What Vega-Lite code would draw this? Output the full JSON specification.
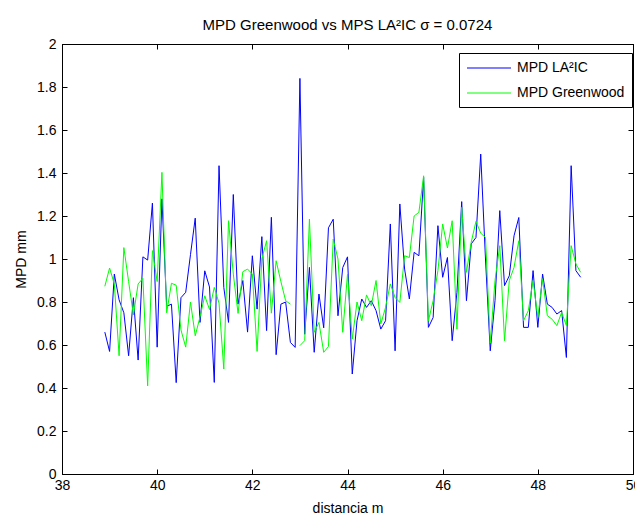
{
  "$schema": "https://vega.github.io/schema/vega-lite/v6.json",
  "width": 571,
  "height": 430,
  "autosize": {"type": "none"},
  "padding": {"left": 62, "top": 44, "right": 2, "bottom": 43},
  "background": "white",
  "title": {
    "text": "MPD Greenwood vs MPS LA²IC σ = 0.0724",
    "font": "Liberation Sans",
    "fontSize": 15,
    "fontWeight": "normal",
    "color": "black",
    "anchor": "middle",
    "offset": 4
  },
  "data": {
    "values": [
      {"distancia": 38.9, "MPD LA²IC": 0.66, "MPD Greenwood": 0.873},
      {"distancia": 39.0, "MPD LA²IC": 0.57, "MPD Greenwood": 0.958},
      {"distancia": 39.1, "MPD LA²IC": 0.93, "MPD Greenwood": 0.884},
      {"distancia": 39.2, "MPD LA²IC": 0.81, "MPD Greenwood": 0.55},
      {"distancia": 39.3, "MPD LA²IC": 0.75, "MPD Greenwood": 1.053},
      {"distancia": 39.4, "MPD LA²IC": 0.55, "MPD Greenwood": 0.895},
      {"distancia": 39.5, "MPD LA²IC": 0.82, "MPD Greenwood": 0.74},
      {"distancia": 39.6, "MPD LA²IC": 0.53, "MPD Greenwood": 0.884},
      {"distancia": 39.7, "MPD LA²IC": 1.01, "MPD Greenwood": 0.91},
      {"distancia": 39.8, "MPD LA²IC": 0.995, "MPD Greenwood": 0.41},
      {"distancia": 39.9, "MPD LA²IC": 1.26, "MPD Greenwood": 1.039},
      {"distancia": 40.0, "MPD LA²IC": 0.59, "MPD Greenwood": 0.895},
      {"distancia": 40.1, "MPD LA²IC": 1.28, "MPD Greenwood": 1.403},
      {"distancia": 40.2, "MPD LA²IC": 0.78, "MPD Greenwood": 0.75},
      {"distancia": 40.3, "MPD LA²IC": 0.79, "MPD Greenwood": 0.887},
      {"distancia": 40.4, "MPD LA²IC": 0.425, "MPD Greenwood": 0.878},
      {"distancia": 40.5, "MPD LA²IC": 0.82, "MPD Greenwood": 0.67},
      {"distancia": 40.6, "MPD LA²IC": 0.845, "MPD Greenwood": 0.59},
      {"distancia": 40.7, "MPD LA²IC": 1.02, "MPD Greenwood": 0.8},
      {"distancia": 40.8, "MPD LA²IC": 1.19, "MPD Greenwood": 0.643},
      {"distancia": 40.9, "MPD LA²IC": 0.705, "MPD Greenwood": 0.73},
      {"distancia": 41.0, "MPD LA²IC": 0.945, "MPD Greenwood": 0.829},
      {"distancia": 41.1, "MPD LA²IC": 0.87, "MPD Greenwood": 0.765},
      {"distancia": 41.2, "MPD LA²IC": 0.426, "MPD Greenwood": 0.868},
      {"distancia": 41.3, "MPD LA²IC": 1.434, "MPD Greenwood": 0.795},
      {"distancia": 41.4, "MPD LA²IC": 0.868, "MPD Greenwood": 0.488},
      {"distancia": 41.5, "MPD LA²IC": 0.705, "MPD Greenwood": 1.178},
      {"distancia": 41.6, "MPD LA²IC": 1.3, "MPD Greenwood": 0.93},
      {"distancia": 41.7, "MPD LA²IC": 0.79, "MPD Greenwood": 0.747},
      {"distancia": 41.8, "MPD LA²IC": 0.9, "MPD Greenwood": 0.941},
      {"distancia": 41.9, "MPD LA²IC": 0.66, "MPD Greenwood": 0.953},
      {"distancia": 42.0, "MPD LA²IC": 1.015, "MPD Greenwood": 0.93},
      {"distancia": 42.1, "MPD LA²IC": 0.767, "MPD Greenwood": 0.57},
      {"distancia": 42.2, "MPD LA²IC": 1.104, "MPD Greenwood": 1.0},
      {"distancia": 42.3, "MPD LA²IC": 0.667, "MPD Greenwood": 1.085},
      {"distancia": 42.4, "MPD LA²IC": 1.194, "MPD Greenwood": 0.748},
      {"distancia": 42.5, "MPD LA²IC": 0.555, "MPD Greenwood": 0.992},
      {"distancia": 42.6, "MPD LA²IC": 0.79, "MPD Greenwood": 0.895},
      {"distancia": 42.7, "MPD LA²IC": 0.8, "MPD Greenwood": 0.806},
      {"distancia": 42.8, "MPD LA²IC": 0.612, "MPD Greenwood": 0.79},
      {"distancia": 42.9, "MPD LA²IC": 0.589, "MPD Greenwood": null},
      {"distancia": 43.0, "MPD LA²IC": 1.84, "MPD Greenwood": 0.597},
      {"distancia": 43.1, "MPD LA²IC": 0.65, "MPD Greenwood": 0.62},
      {"distancia": 43.2, "MPD LA²IC": 0.961, "MPD Greenwood": 1.186},
      {"distancia": 43.3, "MPD LA²IC": 0.566, "MPD Greenwood": 0.659},
      {"distancia": 43.4, "MPD LA²IC": 0.837, "MPD Greenwood": 0.705},
      {"distancia": 43.5, "MPD LA²IC": 0.68, "MPD Greenwood": 0.566},
      {"distancia": 43.6, "MPD LA²IC": 1.145, "MPD Greenwood": 0.593},
      {"distancia": 43.7, "MPD LA²IC": 1.185, "MPD Greenwood": 1.093},
      {"distancia": 43.8, "MPD LA²IC": 0.736, "MPD Greenwood": 1.0},
      {"distancia": 43.9, "MPD LA²IC": 0.96, "MPD Greenwood": 0.659},
      {"distancia": 44.0, "MPD LA²IC": 1.01, "MPD Greenwood": 0.93},
      {"distancia": 44.1, "MPD LA²IC": 0.465, "MPD Greenwood": 0.628},
      {"distancia": 44.2, "MPD LA²IC": 0.713, "MPD Greenwood": 0.8},
      {"distancia": 44.3, "MPD LA²IC": 0.814, "MPD Greenwood": 0.713},
      {"distancia": 44.4, "MPD LA²IC": 0.775, "MPD Greenwood": 0.833},
      {"distancia": 44.5, "MPD LA²IC": 0.806, "MPD Greenwood": 0.783},
      {"distancia": 44.6, "MPD LA²IC": 0.76, "MPD Greenwood": 0.9},
      {"distancia": 44.7, "MPD LA²IC": 0.674, "MPD Greenwood": 0.698},
      {"distancia": 44.8, "MPD LA²IC": 0.713, "MPD Greenwood": 0.775},
      {"distancia": 44.9, "MPD LA²IC": 1.163, "MPD Greenwood": 0.884},
      {"distancia": 45.0, "MPD LA²IC": 0.573, "MPD Greenwood": 0.821},
      {"distancia": 45.1, "MPD LA²IC": 1.256, "MPD Greenwood": 0.798},
      {"distancia": 45.2, "MPD LA²IC": 0.953, "MPD Greenwood": 1.015},
      {"distancia": 45.3, "MPD LA²IC": 0.814, "MPD Greenwood": 1.007},
      {"distancia": 45.4, "MPD LA²IC": 1.031, "MPD Greenwood": 1.2},
      {"distancia": 45.5, "MPD LA²IC": 1.015, "MPD Greenwood": 1.217},
      {"distancia": 45.6, "MPD LA²IC": 1.38, "MPD Greenwood": 1.387},
      {"distancia": 45.7, "MPD LA²IC": 0.682, "MPD Greenwood": 0.713},
      {"distancia": 45.8, "MPD LA²IC": 0.728, "MPD Greenwood": 0.806},
      {"distancia": 45.9, "MPD LA²IC": 1.155, "MPD Greenwood": 0.946},
      {"distancia": 46.0, "MPD LA²IC": 0.915, "MPD Greenwood": 1.163},
      {"distancia": 46.1, "MPD LA²IC": 1.007, "MPD Greenwood": 1.051},
      {"distancia": 46.2, "MPD LA²IC": 0.62, "MPD Greenwood": 1.178},
      {"distancia": 46.3, "MPD LA²IC": 0.845, "MPD Greenwood": 0.674},
      {"distancia": 46.4, "MPD LA²IC": 1.267, "MPD Greenwood": 1.24},
      {"distancia": 46.5, "MPD LA²IC": 0.806, "MPD Greenwood": 0.938},
      {"distancia": 46.6, "MPD LA²IC": 1.07, "MPD Greenwood": 1.078},
      {"distancia": 46.7, "MPD LA²IC": 1.1, "MPD Greenwood": 1.175},
      {"distancia": 46.8, "MPD LA²IC": 1.488, "MPD Greenwood": 1.12},
      {"distancia": 46.9, "MPD LA²IC": 1.0, "MPD Greenwood": 1.1},
      {"distancia": 47.0, "MPD LA²IC": 0.573, "MPD Greenwood": 0.61},
      {"distancia": 47.1, "MPD LA²IC": 0.806, "MPD Greenwood": 0.9},
      {"distancia": 47.2, "MPD LA²IC": 1.225, "MPD Greenwood": 1.062},
      {"distancia": 47.3, "MPD LA²IC": 0.876, "MPD Greenwood": 0.62},
      {"distancia": 47.4, "MPD LA²IC": 0.922, "MPD Greenwood": 0.9},
      {"distancia": 47.5, "MPD LA²IC": 1.108, "MPD Greenwood": 0.961},
      {"distancia": 47.6, "MPD LA²IC": 1.193, "MPD Greenwood": 1.085},
      {"distancia": 47.7, "MPD LA²IC": 0.682, "MPD Greenwood": 0.713},
      {"distancia": 47.8, "MPD LA²IC": 0.682, "MPD Greenwood": 0.76},
      {"distancia": 47.9, "MPD LA²IC": 0.946, "MPD Greenwood": 0.9},
      {"distancia": 48.0, "MPD LA²IC": 0.682, "MPD Greenwood": 0.728},
      {"distancia": 48.1, "MPD LA²IC": 0.93, "MPD Greenwood": 0.908},
      {"distancia": 48.2, "MPD LA²IC": 0.79, "MPD Greenwood": 0.736},
      {"distancia": 48.3, "MPD LA²IC": 0.775, "MPD Greenwood": 0.72},
      {"distancia": 48.4, "MPD LA²IC": 0.744, "MPD Greenwood": 0.69},
      {"distancia": 48.5, "MPD LA²IC": 0.76, "MPD Greenwood": 0.752},
      {"distancia": 48.6, "MPD LA²IC": 0.542, "MPD Greenwood": 0.69},
      {"distancia": 48.7, "MPD LA²IC": 1.434, "MPD Greenwood": 1.062},
      {"distancia": 48.8, "MPD LA²IC": 0.946, "MPD Greenwood": 0.977},
      {"distancia": 48.9, "MPD LA²IC": 0.915, "MPD Greenwood": 0.938}
    ]
  },
  "transform": [
    {"fold": ["MPD LA²IC", "MPD Greenwood"], "as": ["serie", "mpd"]}
  ],
  "layer": [
    {
      "mark": {"type": "line", "strokeWidth": 1, "invalid": "break-paths-show-domains"},
      "encoding": {
        "x": {
          "field": "distancia",
          "type": "quantitative",
          "scale": {"domain": [38, 50], "nice": false, "zero": false},
          "axis": {
            "orient": "bottom",
            "values": [38, 40, 42, 44, 46, 48, 50],
            "format": "~g",
            "labelFlush": false,
            "title": "distancia m",
            "titlePadding": 9
          }
        },
        "y": {
          "field": "mpd",
          "type": "quantitative",
          "scale": {"domain": [0, 2], "nice": false},
          "axis": {
            "orient": "left",
            "values": [0, 0.2, 0.4, 0.6, 0.8, 1, 1.2, 1.4, 1.6, 1.8, 2],
            "format": "~g",
            "labelFlush": false,
            "title": "MPD mm",
            "labelPadding": 11,
            "titlePadding": 8
          }
        },
        "color": {
          "field": "serie",
          "type": "nominal",
          "scale": {"domain": ["MPD LA²IC", "MPD Greenwood"], "range": ["#0000ff", "#00ff00"]},
          "legend": {
            "orient": "none",
            "legendX": 397,
            "legendY": 9,
            "title": null,
            "symbolType": "M-3,0H3",
            "symbolSize": 215,
            "symbolStrokeWidth": 1,
            "symbolOffset": 15,
            "labelOffset": 20,
            "labelFont": "Liberation Sans",
            "labelFontSize": 14,
            "labelColor": "black",
            "rowPadding": 10,
            "padding": 7,
            "strokeColor": "black",
            "fillColor": "white"
          }
        }
      }
    },
    {
      "mark": {"type": "line", "strokeWidth": 1, "opacity": 0, "invalid": "break-paths-show-domains"},
      "encoding": {
        "x": {
          "field": "distancia",
          "type": "quantitative",
          "scale": {"domain": [38, 50], "nice": false, "zero": false},
          "axis": {
            "orient": "top",
            "values": [38, 40, 42, 44, 46, 48, 50],
            "labels": false,
            "title": null
          }
        },
        "y": {
          "field": "mpd",
          "type": "quantitative",
          "scale": {"domain": [0, 2], "nice": false},
          "axis": {
            "orient": "right",
            "values": [0, 0.2, 0.4, 0.6, 0.8, 1, 1.2, 1.4, 1.6, 1.8, 2],
            "labels": false,
            "title": null
          }
        },
        "color": {"field": "serie", "type": "nominal"}
      }
    }
  ],
  "resolve": {"axis": {"x": "independent", "y": "independent"}},
  "config": {
    "view": {"stroke": "black", "strokeWidth": 1},
    "axis": {
      "grid": false,
      "domainColor": "black",
      "tickColor": "black",
      "tickSize": -5,
      "labelPadding": 9,
      "labelFont": "Liberation Sans",
      "labelFontSize": 14,
      "labelColor": "black",
      "titleFont": "Liberation Sans",
      "titleFontSize": 14,
      "titleFontWeight": "normal",
      "titleColor": "black"
    }
  }
}
